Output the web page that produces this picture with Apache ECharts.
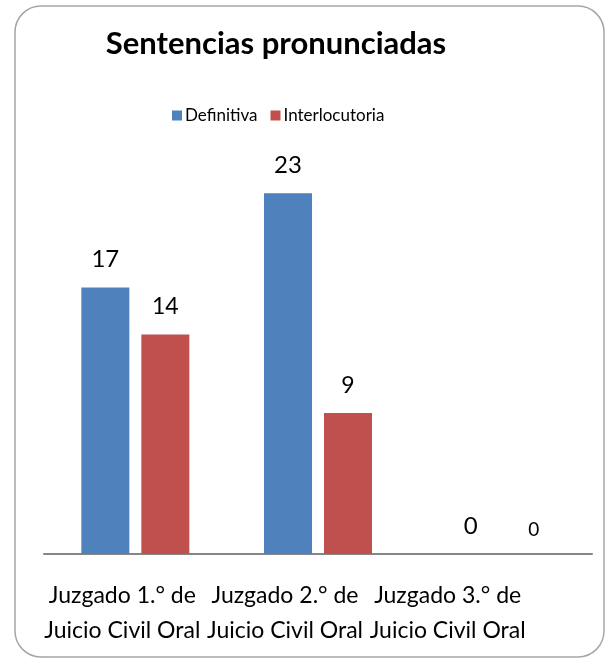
<!DOCTYPE html>
<html>
<head>
<meta charset="utf-8">
<script src="https://cdn.jsdelivr.net/npm/echarts@6/dist/echarts.min.js"></script>
<style>
  html, body { margin: 0; padding: 0; background: #ffffff; }
  #chart { width: 605px; height: 659px; }
</style>
</head>
<body>
<div id="chart"></div>
<script>
const categories = [
  "Juzgado 1.° de\nJuicio Civil Oral",
  "Juzgado 2.° de\nJuicio Civil Oral",
  "Juzgado 3.° de\nJuicio Civil Oral",
];
const definitiva = [17, 23, 0];
const interlocutoria = [14, 9, 0];

// Excel let the category labels drift left; reproduce with right padding per label
const labelShift = [26, 66, 106];

const font = "Lato, 'Noto Sans', sans-serif";
const chart = echarts.init(document.getElementById("chart"), null, { renderer: "canvas" });

const rich = {};
labelShift.forEach((pad, i) => {
  rich["c" + i] = { fontFamily: font, fontSize: 23, color: "#000", lineHeight: 35, padding: [0, pad, 0, 0] };
});

chart.setOption({
  animation: false,
  graphic: [
    {
      type: "rect",
      shape: { x: 15, y: 6, width: 589, height: 651, r: 26 },
      style: { fill: "none", stroke: "#a6a6a6", lineWidth: 1.5 },
      silent: true,
    },
  ],
  title: {
    text: "Sentencias pronunciadas",
    left: 271,
    textAlign: "center",
    top: 23,
    textStyle: { fontFamily: font, fontSize: 31, fontWeight: "bold", color: "#000" },
  },
  legend: {
    left: 167,
    top: 102,
    itemWidth: 10,
    itemHeight: 10,
    itemGap: 13,
    icon: "rect",
    textStyle: { fontFamily: font, fontSize: 17, color: "#000", padding: [0, 0, 0, -2] },
    data: ["Definitiva", "Interlocutoria"],
  },
  grid: { left: 44, right: 13, top: 162, bottom: 105, outerBoundsMode: "none", containLabel: false },
  xAxis: {
    type: "category",
    data: categories,
    axisLine: { lineStyle: { color: "#868686", width: 2 } },
    axisTick: { show: false },
    axisLabel: {
      interval: 0,
      margin: 24,
      hideOverlap: false,
      formatter: (value, index) =>
        value.split("\n").map((line) => `{c${index}|${line}}`).join("\n"),
      rich,
    },
  },
  yAxis: { type: "value", min: 0, max: 25, show: false, splitLine: { show: false } },
  series: [
    {
      name: "Definitiva",
      type: "bar",
      barWidth: 48,
      barGap: "25%",
      data: definitiva,
      itemStyle: { color: "#4f81bd" },
      label: { show: true, position: "top", distance: 16, fontFamily: font, fontSize: 24, color: "#000" },
    },
    {
      name: "Interlocutoria",
      type: "bar",
      barWidth: 48,
      data: interlocutoria.map((v, i) =>
        i === 2 ? { value: v, label: { fontSize: 19, distance: 15, offset: [3, 0] } } : v
      ),
      itemStyle: { color: "#c0504d" },
      label: { show: true, position: "top", distance: 16, fontFamily: font, fontSize: 23, color: "#000" },
    },
  ],
});
</script>
</body>
</html>
